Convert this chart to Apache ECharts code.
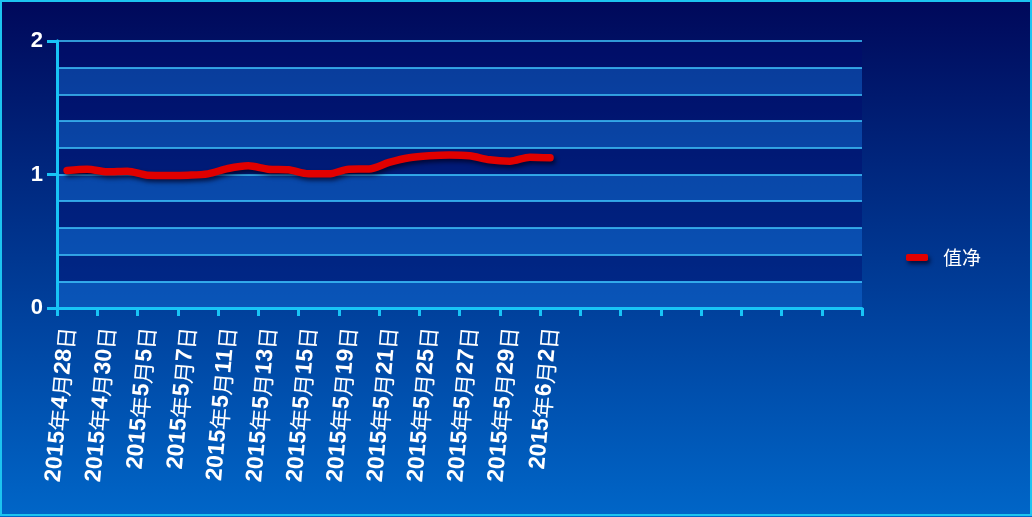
<!DOCTYPE html>
<html>
<head>
<meta charset="utf-8">
<script src="https://cdn.jsdelivr.net/npm/echarts@6/dist/echarts.min.js"></script>
<style>
html,body{margin:0;padding:0;background:#00105e;}
#c{width:1032px;height:517px;}
</style>
</head>
<body>
<div id="c"></div>
<script>
var seriesName = '值净';
var dates = ['2015年4月28日','2015年4月29日','2015年4月30日','2015年5月4日','2015年5月5日','2015年5月6日','2015年5月7日','2015年5月8日','2015年5月11日','2015年5月12日','2015年5月13日','2015年5月14日','2015年5月15日','2015年5月18日','2015年5月19日','2015年5月20日','2015年5月21日','2015年5月22日','2015年5月25日','2015年5月26日','2015年5月27日','2015年5月28日','2015年5月29日','2015年6月1日','2015年6月2日'];
var emptySlots = ['','','','','','','','','','','','','','',''];
var values = [1.03,1.04,1.02,1.025,0.995,0.993,0.995,1.005,1.045,1.065,1.04,1.035,1.005,1.005,1.04,1.042,1.09,1.125,1.14,1.146,1.14,1.11,1.10,1.13,1.125];
var yMajorTicks = [0,1,2];

var categories = dates.concat(emptySlots);
var cyan = '#18c4f6';
var chart = echarts.init(document.getElementById('c'));
chart.setOption({
  animation: false,
  backgroundColor: {type:'linear', x:0, y:0, x2:0, y2:1, colorStops:[{offset:0,color:'#00085a'},{offset:1,color:'#0066c8'}]},
  graphic: [{type:'rect', shape:{x:1,y:1,width:1030,height:514}, style:{fill:'none', stroke:'#1cc4f0', lineWidth:2}, z:100}],
  legend: {
    left: 906, top: 248, orient:'vertical', padding: 0,
    icon: 'roundRect', itemWidth: 22, itemHeight: 7, itemGap: 10,
    itemStyle: {shadowColor:'rgba(0,0,30,0.7)', shadowBlur:4, shadowOffsetX:2, shadowOffsetY:3},
    textStyle: {color:'#ffffff', fontSize: 19, padding:[0,0,0,10], fontFamily: '"Noto Sans CJK SC", sans-serif'},
    data: [seriesName]
  },
  grid: {left:57, right:170, top:41, bottom:209, containLabel:false},
  xAxis: {
    type: 'category', data: categories, boundaryGap: true,
    axisLine: {show:true, lineStyle:{color:cyan, width:3}},
    axisTick: {show:true, interval:1, length:8, lineStyle:{color:cyan, width:3}},
    axisLabel: {
      show:true, interval:1, rotate:85, margin:19, color:'#ffffff', fontSize:23, fontWeight:'bold',
      fontFamily:'"Liberation Sans", Arial, sans-serif',
      formatter: function (v) { return v.replace(/([^\x00-\x7f])/g, '{c|$1}'); },
      rich: {c: {color:'#ffffff', fontSize:22, fontWeight:'normal', fontFamily:'"Noto Sans CJK SC", sans-serif'}}
    },
    splitLine: {show:false}
  },
  yAxis: [{
    type:'value', min:0, max:2, interval:0.2,
    axisLine:{show:true, lineStyle:{color:cyan, width:3}},
    axisTick:{show:false}, axisLabel:{show:false},
    splitLine:{show:true, lineStyle:{color:'#40c8ff', width:1.5}},
    splitArea:{show:true, areaStyle:{color:['rgba(20,110,220,0.45)','rgba(0,10,110,0.4)']}}
  },{
    type:'value', min:yMajorTicks[0], max:yMajorTicks[yMajorTicks.length-1], interval:1, position:'left',
    axisLine:{show:true, lineStyle:{color:cyan, width:3}},
    axisTick:{show:true, length:10, lineStyle:{color:cyan, width:3}},
    axisLabel:{color:'#ffffff', fontSize:22, fontWeight:'bold', margin:14, fontFamily:'"Liberation Sans", Arial, sans-serif'},
    splitLine:{show:false}
  }],
  series: [{
    name: seriesName, type:'line', yAxisIndex:0, data: values,
    smooth: 0.3, symbol:'none',
    lineStyle:{color:'#e00000', width:7.5, cap:'round', join:'round', shadowColor:'rgba(0,0,30,0.7)', shadowBlur:4, shadowOffsetX:2, shadowOffsetY:3},
    itemStyle:{color:'#e00000'}
  }]
});
</script>
</body>
</html>
